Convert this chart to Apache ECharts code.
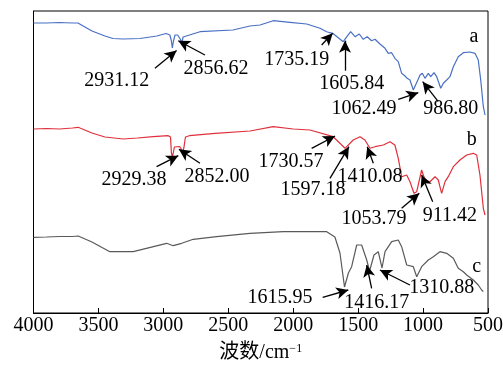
<!DOCTYPE html>
<html>
<head>
<meta charset="utf-8">
<script src="https://cdn.jsdelivr.net/npm/echarts@6/dist/echarts.min.js"></script>
<style>
  html, body { margin: 0; padding: 0; background: #fff; }
  #main { width: 503px; height: 365px; }
</style>
</head>
<body>
<div id="main"></div>
<script>
// x axis ticks (wavenumber, cm-1)
var xTicks = [4000, 3500, 3000, 2500, 2000, 1500, 1000, 500];

// spectra: [wavenumber, offset transmittance]
var curveA = [
  [4000, 290], [3900, 290], [3800, 290.5], [3700, 290], [3658, 290], [3550, 282], [3450, 277],
  [3388, 274.5], [3311, 274], [3180, 274.5], [3050, 277], [2980, 279.5], [2950, 278], [2938, 272],
  [2931, 265], [2922, 272], [2910, 278], [2890, 278], [2870, 274], [2858, 270], [2848, 276],
  [2835, 278], [2718, 281.3], [2464, 283], [2333, 287], [2256, 288], [2154, 292.3], [2025, 290.7],
  [1896, 289], [1794, 284.7], [1742, 281.3], [1717, 280.3], [1696, 279.7], [1660, 276], [1615, 271.3],
  [1558, 281.3], [1524, 276.3], [1491, 279], [1461, 273.7], [1430, 276.3], [1396, 272.3], [1370, 273.7],
  [1332, 269], [1293, 264.7], [1268, 259.7], [1242, 260.3], [1217, 254.7], [1191, 251.3], [1165, 239.7],
  [1139, 237], [1122, 234.7], [1101, 233], [1075, 223], [1062, 221.3], [1023, 238], [1006, 239.7],
  [985, 234.7], [960, 239.7], [941, 236.3], [916, 240.3], [895, 236.3], [864, 224.7], [844, 229.7],
  [818, 233], [793, 236.3], [767, 246.3], [729, 256.3], [690, 260.3], [639, 261], [600, 259.7],
  [575, 253], [556, 233], [536, 206.3], [523, 198]
];
var curveB = [
  [4000, 184], [3900, 184.5], [3800, 184], [3700, 185], [3656, 185.7], [3550, 180], [3450, 176],
  [3309, 174], [3200, 175], [3078, 176.3], [2962, 177.3], [2945, 176], [2938, 160], [2930, 156],
  [2922, 158], [2915, 166], [2900, 167], [2875, 166.5], [2862, 164], [2852, 161], [2842, 165],
  [2830, 176], [2800, 177.3], [2600, 179.7], [2333, 182], [2154, 186.3], [2000, 184], [1871, 183],
  [1692, 176.3], [1601, 164.7], [1538, 173], [1486, 176.3], [1448, 173], [1409, 164.7], [1370, 166.3],
  [1306, 168], [1255, 171.3], [1217, 168], [1191, 154.7], [1165, 136.3], [1126, 138], [1101, 131.3],
  [1070, 119.7], [1049, 121.3], [1011, 143], [985, 133], [947, 131.3], [908, 136.3], [883, 133],
  [857, 119.7], [831, 131.3], [806, 136.3], [767, 146.3], [716, 153], [664, 158], [613, 159.7],
  [587, 158], [562, 138], [536, 104.7], [523, 98]
];
var curveC = [
  [4000, 75.7], [3900, 76], [3800, 76.5], [3700, 76.5], [3656, 77], [3550, 71], [3412, 61.3],
  [3232, 61.3], [2975, 69.7], [2924, 67.3], [2859, 69.7], [2770, 73.7], [2590, 76.3], [2333, 79.7],
  [2077, 81.3], [1742, 81.3], [1679, 76], [1640, 60], [1605, 26], [1575, 40], [1550, 46.3],
  [1511, 68], [1473, 68], [1434, 53], [1412, 42], [1378, 58], [1345, 61.3], [1316, 45], [1293, 61.3],
  [1242, 71.3], [1191, 73], [1165, 66.3], [1126, 48], [1075, 46.3], [1049, 36.3], [1011, 46.3],
  [960, 53], [921, 56.3], [870, 61.3], [818, 59.7], [767, 54.7], [729, 44.7], [690, 41.3],
  [664, 38], [613, 33], [575, 28], [549, 23], [536, 21.3]
];

// peak labels
var peaksA = ['2931.12', '2856.62', '1735.19', '1605.84', '1062.49', '986.80'];
var peaksB = ['2929.38', '2852.00', '1730.57', '1597.18', '1410.08', '1053.79', '911.42'];
var peaksC = ['1615.95', '1416.17', '1310.88'];

// where each label sits and where its arrow runs (tail -> tip), in axis units
var layoutA = [
  [[3358, 232], [3065, 244.7], [2898, 262.5]],
  [[2595, 244.7], [2680, 258], [2885, 272.3]],
  [[1973, 253], [1781, 268], [1696, 279.7]],
  [[1550, 229.7], [1601, 242.3], [1601, 272.3]],
  [[1455, 204.7], [1191, 213.7], [1037, 220.3]],
  [[787, 204.7], [883, 211.3], [1003, 231.3]]
];
var layoutB = [
  [[3227, 133], [3052, 146.3], [2885, 157.3]],
  [[2587, 136.3], [2718, 149.7], [2880, 163.7]],
  [[2017, 151.3], [1858, 164.7], [1678, 177]],
  [[1848, 123], [1717, 134.7], [1571, 166.3]],
  [[1409, 136.3], [1383, 149.7], [1430, 166.3]],
  [[1378, 94.7], [1165, 104.7], [1029, 119.7]],
  [[793, 97], [926, 111.3], [1011, 138]]
];
var layoutC = [
  [[2102, 15.7], [1773, 15.7], [1576, 23]],
  [[1357, 10.3], [1396, 24.7], [1434, 48]],
  [[857, 25.7], [1101, 28], [1332, 43]]
];

var serif = "'Liberation Serif', 'Times New Roman', 'Noto Sans CJK SC', serif";

function makeSeries(name, data, color, peaks, layout, tagPos) {
  var points = peaks.map(function (t, i) {
    return { name: t, coord: layout[i][0] };
  });
  points.push({ name: name, coord: tagPos });
  return {
    name: name,
    type: 'line',
    data: data,
    showSymbol: false,
    symbol: 'none',
    lineStyle: { color: color, width: 1.2 },
    silent: true,
    markPoint: {
      symbol: 'circle',
      symbolSize: 1,
      itemStyle: { color: 'rgba(0,0,0,0)' },
      label: {
        show: true, position: 'inside', formatter: '{b}',
        color: '#000', fontSize: 20, fontFamily: serif
      },
      data: points
    },
    markLine: {
      symbol: ['none', 'arrow'],
      symbolSize: [9, 12],
      lineStyle: { color: '#000', width: 1.3, type: 'solid' },
      label: { show: false },
      silent: true,
      data: layout.map(function (l) {
        return [{ coord: l[1] }, { coord: l[2] }];
      })
    }
  };
}

var myChart = echarts.init(document.getElementById('main'));

var option = {
  animation: false,
  backgroundColor: '#fff',
  grid: {
    left: 33.5, right: 15, top: 11, bottom: 52,
    outerBoundsMode: 'none',
    containLabel: false,
    show: true, borderColor: '#000', borderWidth: 1
  },
  xAxis: {
    type: 'value',
    inverse: true,
    min: xTicks[xTicks.length - 1],
    max: xTicks[0],
    interval: 500,
    axisLine: { show: true, lineStyle: { color: '#000', width: 1 } },
    axisTick: { show: true, inside: true, length: 5, lineStyle: { color: '#000' } },
    axisLabel: {
      color: '#000', fontSize: 20, fontFamily: serif, margin: 3,
      formatter: function (v) { return String(v); }
    },
    splitLine: { show: false },
    name: '{a|波数/cm}{s|−1}',
    nameLocation: 'middle',
    nameGap: 30,
    nameTextStyle: {
      rich: {
        a: { fontSize: 20, fontFamily: serif, color: '#000' },
        s: { fontSize: 12, fontFamily: serif, color: '#000', verticalAlign: 'top', padding: [0, 0, 8, 0] }
      }
    }
  },
  yAxis: {
    type: 'value',
    min: 0,
    max: 302,
    axisLine: { show: true, lineStyle: { color: '#000' } },
    axisTick: { show: false },
    axisLabel: { show: false },
    splitLine: { show: false }
  },
  series: [
    makeSeries('a', curveA, '#4a70c4', peaksA, layoutA, [608, 276.3]),
    makeSeries('b', curveB, '#e0303c', peaksB, layoutB, [626, 173]),
    makeSeries('c', curveC, '#5a5a5a', peaksC, layoutC, [587, 46.3])
  ]
};

myChart.setOption(option);
</script>
</body>
</html>
